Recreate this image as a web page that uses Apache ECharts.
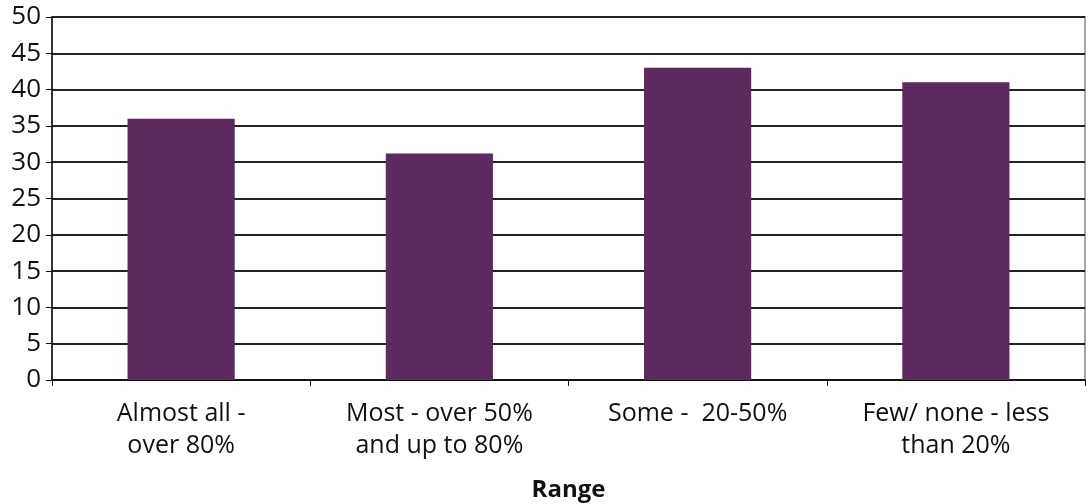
<!DOCTYPE html>
<html>
<head>
<meta charset="utf-8">
<script src="https://cdn.jsdelivr.net/npm/echarts@6/dist/echarts.min.js"></script>
<style>
  html,body{margin:0;padding:0;background:#fff;}
  #chart{width:1092px;height:504px;}
</style>
</head>
<body>
<div id="chart"></div>
<script>
// === Datos ===
const categories = ['Almost all -\nover 80%', 'Most - over 50%\nand up to 80%', 'Some -  20-50%', 'Few/ none - less\nthan 20%'];
const values = [36, 31.2, 43, 41];
const yTicks = [0, 50, 5]; // min, max, interval

const purple = '#5e295f', ink = '#111', line = '#222', frame = '#a6a6a6';
const font = 'Open Sans, DejaVu Sans, sans-serif';

const chart = echarts.init(document.getElementById('chart'));
chart.setOption({
  animation: false,
  grid: { left: 52, right: 7, top: 17, bottom: 124, outerBoundsMode: 'none', containLabel: false,
          show: true, borderColor: frame, borderWidth: 2, backgroundColor: '#fff' },
  xAxis: {
    type: 'category',
    data: categories,
    name: 'Range',
    nameLocation: 'middle',
    nameGap: 98,
    nameTextStyle: { fontFamily: font, fontSize: 24, fontWeight: 'bold', color: ink, verticalAlign: 'top' },
    axisLine: { lineStyle: { color: ink, width: 1.5 } },
    axisTick: { show: true, length: 6, lineStyle: { color: ink } },
    axisLabel: { fontFamily: font, fontSize: 25, color: ink, margin: 18, lineHeight: 32, interval: 0 }
  },
  yAxis: {
    type: 'value',
    min: yTicks[0], max: yTicks[1], interval: yTicks[2],
    axisLine: { show: true, lineStyle: { color: ink, width: 1.5 } },
    axisTick: { show: true, length: 6, lineStyle: { color: ink } },
    axisLabel: { fontFamily: font, fontSize: 26, color: ink, margin: 11 },
    splitLine: { lineStyle: { color: line, width: 2 } }
  },
  series: [{
    type: 'bar',
    data: values,
    barWidth: '41.5%',
    itemStyle: { color: purple }
  }]
});
</script>
</body>
</html>
